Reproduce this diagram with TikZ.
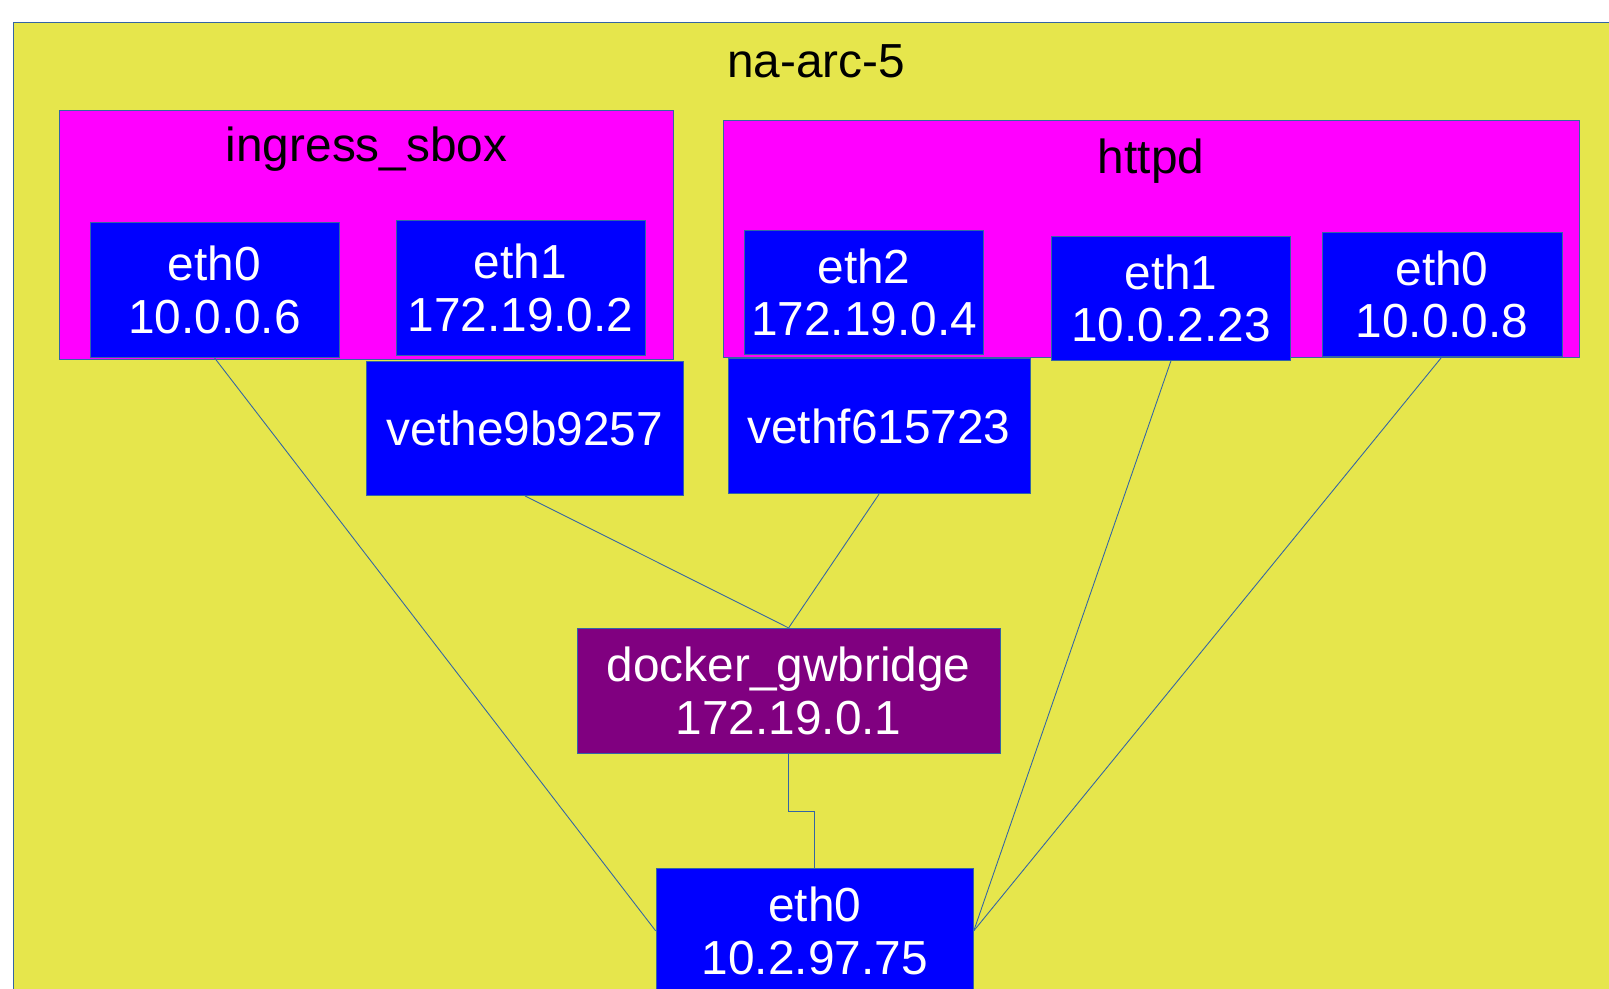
\documentclass[tikz,border=0pt]{standalone}
\usepackage{fontspec}
\setmainfont{Liberation Sans}
\usepackage{xcolor}
\usepackage{tikz}
\usetikzlibrary{positioning,calc}

\definecolor{hostyellow}{HTML}{E6E64C}
\definecolor{sboxmagenta}{HTML}{FF00FF}
\definecolor{ifblue}{HTML}{0000FF}
\definecolor{brpurple}{HTML}{800080}
\definecolor{linkgray}{HTML}{3465A4}

\tikzset{
    label/.style={text=black, inner sep=0pt, font=\fontsize{27.2}{29.8}\selectfont},
    iface/.style={rectangle, draw=linkgray, fill=ifblue, text=white, align=center, inner sep=0pt, font=\fontsize{27.2}{29.8}\selectfont},
    bridgebox/.style={iface, fill=brpurple},
    link/.style={draw=linkgray, line width=0.5pt}
}

\begin{document}
\begin{tikzpicture}[x=0.02cm, y=-0.02cm]
    \useasboundingbox (0,0) rectangle (1609,988);
    \clip (0,0) rectangle (1609,988);

    % Host
    \draw[draw=linkgray, fill=hostyellow] (13,22.5) rectangle (1700,1100);
    \node[label] (hostname) at (816,61) {na-arc-5};

    % ingress_sbox
    \draw[draw=linkgray, fill=sboxmagenta] (59.6,109.9) rectangle (673.6,359.4);
    \node[label] (ingresslabel) at (366.6,149.5) {ingress\_sbox};
    \node[iface, minimum width=4.98cm, minimum height=2.70cm] (ingeth0) at (214.5,290) {eth0\\10.0.0.6};
    \node[iface, minimum width=4.98cm, minimum height=2.69cm] (ingeth1) at (520.5,288) {eth1\\172.19.0.2};

    % httpd
    \draw[draw=linkgray, fill=sboxmagenta] (722.9,120.1) rectangle (1579.2,357.3);
    \node[label] (httpdlabel) at (1151,161) {httpd};
    \node[iface, minimum width=4.79cm, minimum height=2.48cm] (webeth2) at (864,292.1) {eth2\\172.19.0.4};
    \node[iface, minimum width=4.79cm, minimum height=2.48cm] (webeth1) at (1171,298.3) {eth1\\10.0.2.23};
    \node[iface, minimum width=4.80cm, minimum height=2.49cm] (webeth0) at (1442,294.2) {eth0\\10.0.0.8};

    % veth pairs
    \node[iface, minimum width=6.34cm, minimum height=2.69cm] (vetha) at (525,428.3) {vethe9b9257};
    \node[iface, minimum width=6.04cm, minimum height=2.71cm] (vethb) at (879,426.1) {vethf615723};

    % Bridge and host interface
    \node[bridgebox, minimum width=8.46cm, minimum height=2.51cm] (bridge) at (788.6,691) {docker\_gwbridge\\172.19.0.1};
    \node[iface, minimum width=6.35cm, minimum height=2.48cm] (hosteth0) at (814.7,930.8) {eth0\\10.2.97.75};

    % Links
    \foreach \a in {vetha,vethb}
        \draw[link] (\a.south) -- (bridge.north);
    \draw[link] (ingeth0.south) -- (hosteth0.west);
    \foreach \a in {webeth1,webeth0}
        \draw[link] (\a.south) -- (hosteth0.east);
    \draw[link] (bridge.south) |- ($(bridge.south)!0.5!(hosteth0.north)$) -| (hosteth0.north);
\end{tikzpicture}
\end{document}
